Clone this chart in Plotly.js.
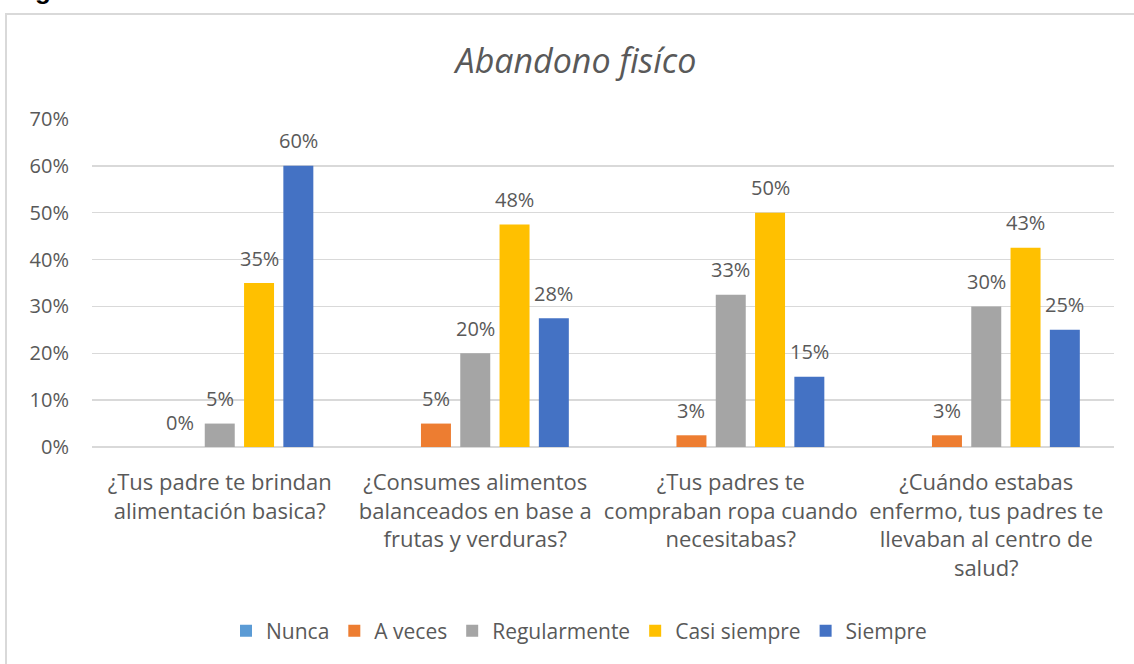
<!DOCTYPE html>
<html>
<head>
<meta charset="utf-8">
<script src="https://cdn.plot.ly/plotly-3.0.1.min.js"></script>
<style>html,body{margin:0;padding:0;background:#fff;}#chart{width:1134px;height:664px;}</style>
</head>
<body>
<div id="chart"></div>
<script>
var categories = [
  "¿Tus padre te brindan<br>alimentación basica?",
  "¿Consumes alimentos<br>balanceados en base a<br>frutas y verduras?",
  "¿Tus padres te<br>compraban ropa cuando<br>necesitabas?",
  "¿Cuándo estabas<br>enfermo, tus padres te<br>llevaban al centro de<br>salud?"
];
var seriesNames = ["Nunca", "A veces", "Regularmente", "Casi siempre", "Siempre"];
var nunca       = [0, 0, 0, 0];
var aVeces      = [0, 5, 2.5, 2.5];
var regularmente= [5, 20, 32.5, 30];
var casiSiempre = [35, 47.5, 50, 42.5];
var siempre     = [60, 27.5, 15, 25];
var showLabels  = [false, true, true, true, true];
var yTickVals   = [0, 10, 20, 30, 40, 50, 60, 70];
var yTickText   = ["0%", "10%", "20%", "30%", "40%", "50%", "60%", "70%"];

var seriesValues = [nunca, aVeces, regularmente, casiSiempre, siempre];
var colors = ["#5B9BD5", "#ED7D31", "#A5A5A5", "#FFC000", "#4472C4"];
var FONT = "'Open Sans', 'Noto Sans', sans-serif";
var TXT = "#595959";
var BARGAP = 0.231, GROUPGAP = 0.237;

var traces = seriesNames.map(function (n, i) {
  return {
    type: "bar", name: n, x: categories, y: seriesValues[i],
    marker: {color: colors[i], line: {width: 0}},
    hoverinfo: "name+y"
  };
});

var annotations = [];
var slot = (1 - BARGAP) / seriesNames.length;
seriesValues.forEach(function (vals, i) {
  if (!showLabels[i]) return;
  vals.forEach(function (v, j) {
    annotations.push({
      xref: "x", yref: "y",
      x: j + (i - (seriesNames.length - 1) / 2) * slot,
      y: v, yshift: 25, yanchor: "middle", xanchor: "center",
      text: Math.round(v) + "%", showarrow: false,
      font: {family: FONT, size: 20, color: TXT}
    });
  });
});
annotations.push({
  xref: "paper", yref: "paper", x: (43 - 92) / 1022, y: (447 - 7) / 328,
  xanchor: "center", yanchor: "bottom", text: "<b>g</b>", showarrow: false,
  font: {family: "Liberation Sans, Arial", size: 26, color: "#000"}
});

var layout = {
  width: 1134, height: 664,
  margin: {l: 92, r: 20, t: 119, b: 217},
  paper_bgcolor: "#fff", plot_bgcolor: "#fff",
  font: {family: FONT, size: 20, color: TXT},
  title: {
    text: "<i>Abandono fisíco</i>",
    font: {family: FONT, size: 34, color: TXT},
    x: 576 / 1134, xref: "container", xanchor: "center",
    y: 1 - 61 / 664, yref: "container", yanchor: "middle"
  },
  barmode: "group", bargap: BARGAP, bargroupgap: GROUPGAP,
  xaxis: {
    type: "category", showgrid: false, zeroline: false, showline: false,
    ticks: "", tickangle: 0, ticklabelstandoff: 20,
    tickfont: {family: FONT, size: 22, color: TXT}, fixedrange: true
  },
  yaxis: {
    range: [0, 70], tickvals: yTickVals, ticktext: yTickText,
    showgrid: true, gridcolor: "#D9D9D9", gridwidth: 1.5,
    zeroline: true, zerolinecolor: "#D9D9D9", zerolinewidth: 1.5,
    showline: false, ticks: "", ticklabelstandoff: 22,
    tickfont: {family: FONT, size: 20, color: TXT}, fixedrange: true
  },
  legend: {
    orientation: "h", xref: "container", yref: "container",
    x: 579 / 1134, xanchor: "center", y: 1 - 631 / 664, yanchor: "middle",
    font: {family: FONT, size: 21, color: TXT}, itemwidth: 30,
    traceorder: "normal"
  },
  annotations: annotations,
  shapes: [{
    type: "rect", xref: "paper", yref: "paper",
    x0: (6 - 92) / 1022, x1: (1145 - 92) / 1022,
    y0: (447 - 700) / 328, y1: (447 - 14) / 328,
    line: {color: "#D9D9D9", width: 2}, fillcolor: "rgba(0,0,0,0)", layer: "below"
  }],
  showlegend: true
};

Plotly.newPlot("chart", traces, layout, {displayModeBar: false, staticPlot: true});
</script>
</body>
</html>
